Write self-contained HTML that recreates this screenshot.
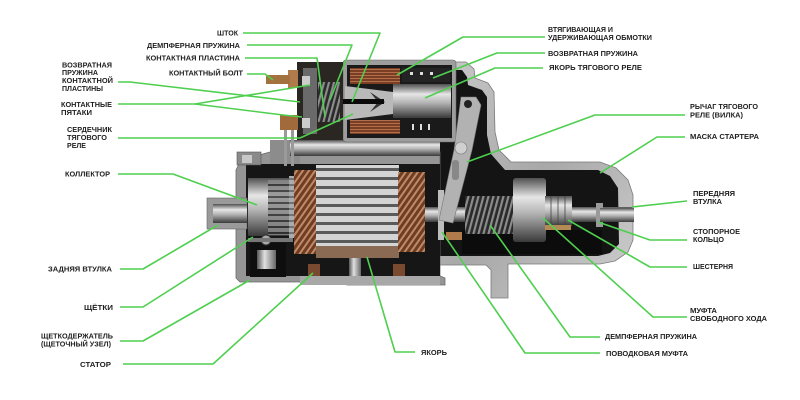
<!DOCTYPE html>
<html><head><meta charset="utf-8"><style>
html,body{margin:0;padding:0;background:#fff;width:800px;height:400px;overflow:hidden}
svg{display:block}
text{font-family:"Liberation Sans","DejaVu Sans",sans-serif;font-weight:bold;font-size:7px;fill:#1e1e1e}
</style></head><body>
<svg width="800" height="400" viewBox="0 0 800 400" xmlns="http://www.w3.org/2000/svg">
<defs>
<linearGradient id="silv" x1="0" y1="0" x2="0" y2="1">
<stop offset="0" stop-color="#505050"/><stop offset="0.3" stop-color="#e6e6e6"/><stop offset="0.55" stop-color="#b4b4b4"/><stop offset="1" stop-color="#3a3a3a"/></linearGradient>
<linearGradient id="silvh" x1="0" y1="0" x2="1" y2="0">
<stop offset="0" stop-color="#555"/><stop offset="0.4" stop-color="#e0e0e0"/><stop offset="1" stop-color="#666"/></linearGradient>
<linearGradient id="case" x1="0" y1="0" x2="1" y2="1">
<stop offset="0" stop-color="#c9c9c9"/><stop offset="0.5" stop-color="#a8a8a8"/><stop offset="1" stop-color="#cfcfcf"/></linearGradient>
<pattern id="lam" width="6" height="9" patternUnits="userSpaceOnUse">
<rect width="6" height="9" fill="#d4d4d4"/><rect y="6" width="6" height="3" fill="#5a5a5a"/></pattern>
<pattern id="cop" width="5" height="5" patternUnits="userSpaceOnUse" patternTransform="rotate(35)">
<rect width="5" height="5" fill="#6e3d24"/><rect width="2" height="5" fill="#c08a66"/></pattern>
<pattern id="com" width="4" height="6" patternUnits="userSpaceOnUse">
<rect width="4" height="6" fill="#8a8a8a"/><rect y="4" width="4" height="2" fill="#2a2a2a"/></pattern>
<pattern id="spr" width="5" height="40" patternUnits="userSpaceOnUse" patternTransform="skewX(-15)">
<rect width="5" height="40" fill="#2a2a2a"/><rect width="2.2" height="40" fill="#8d8d8d"/></pattern>
<pattern id="coil" width="40" height="3" patternUnits="userSpaceOnUse">
<rect width="40" height="3" fill="#7a3e24"/><rect width="40" height="1" fill="#b36f4b"/></pattern>
</defs>

<!-- drive housing -->
<polygon fill="url(#case)" stroke="#7a7a7a" stroke-width="0.8" points="436,62 466,62 474,69 475,78 488,83 494,92 495,132 499,150 511,162 600,162 616,168 628,180 633,195 633,240 628,252 615,261 600,264 508,264 508,298 491,298 491,270 486,265 436,265"/>
<polygon fill="#141414" points="440,70 462,70 467,77 468,85 482,90 487,97 487,135 491,154 505,170 598,170 610,176 618,188 619,244 610,253 598,256 440,256"/>

<!-- motor housing -->
<polygon fill="#959595" stroke="#6a6a6a" stroke-width="0.8" points="236,170 241,160 270,152 300,152 440,152 440,276 445,278 445,285 347,285 340,282 240,282 236,278"/>
<rect x="246" y="164" width="194" height="112" fill="#161616"/>
<rect x="237" y="152" width="24" height="13" fill="#8a8a8a" stroke="#555" stroke-width="0.6"/>
<rect x="242" y="155" width="10" height="8" fill="#c8c8c8"/>

<!-- left shaft boss -->
<rect x="207" y="198" width="40" height="31" fill="#9a9a9a" stroke="#666" stroke-width="0.6"/>
<rect x="213" y="204" width="34" height="19" fill="url(#silv)"/>

<!-- commutator -->
<rect x="248" y="178" width="42" height="58" fill="url(#silv)"/>
<rect x="268" y="180" width="22" height="55" fill="url(#com)" opacity="0.8"/>
<rect x="289" y="176" width="6" height="62" fill="#ddd"/>
<rect x="289" y="176" width="6" height="62" fill="url(#com)" opacity="0.6"/>

<!-- windings & laminations -->
<rect x="294" y="170" width="23" height="84" fill="url(#cop)"/>
<rect x="316" y="165" width="83" height="86" fill="url(#lam)"/>
<rect x="316" y="246" width="83" height="12" fill="#8a6a52"/>
<rect x="398" y="172" width="27" height="80" fill="url(#cop)"/>

<!-- brush holder -->
<rect x="250" y="243" width="36" height="34" fill="#0e0e0e"/>
<rect x="257" y="250" width="19" height="19" fill="url(#silvh)"/>
<circle cx="266" cy="240" r="5" fill="#aaa" stroke="#333"/>
<rect x="248" y="238" width="45" height="4" fill="#777"/>

<!-- stator poles & screw -->
<rect x="308" y="264" width="12" height="13" fill="#7a4a30"/>
<rect x="393" y="264" width="12" height="13" fill="#7a4a30"/>
<rect x="349" y="258" width="12" height="27" fill="url(#silvh)"/>
<rect x="300" y="276" width="140" height="9" fill="#a8a8a8"/>

<!-- solenoid -->
<rect x="270" y="140" width="30" height="24" fill="#8c8c8c"/>
<rect x="290" y="140" width="150" height="16" fill="url(#silv)"/>
<rect x="343" y="60" width="113" height="82" rx="3" fill="#9d9d9d" stroke="#666" stroke-width="0.6"/>
<rect x="347" y="65" width="105" height="73" fill="#1a1a1a"/>
<rect x="350" y="68" width="50" height="16" fill="url(#coil)"/>
<rect x="350" y="120" width="50" height="14" fill="url(#coil)"/>
<rect x="402" y="68" width="48" height="14" fill="#242424"/>
<g fill="#ddd"><rect x="410" y="72" width="3" height="3"/><rect x="420" y="72" width="3" height="3"/><rect x="430" y="72" width="3" height="3"/><rect x="412" y="124" width="2" height="6"/><rect x="420" y="124" width="2" height="6"/><rect x="428" y="124" width="2" height="6"/></g>
<polygon points="345,86 393,92 393,114 345,120" fill="#b9b9b9"/>
<polygon points="370,92 385,102 370,112 378,102" fill="#333"/>
<rect x="393" y="84" width="58" height="34" fill="url(#silv)"/>
<rect x="328" y="99" width="56" height="5" fill="#0a0a0a"/>
<!-- solenoid cap -->
<rect x="297" y="62" width="46" height="78" fill="#2a2622"/>
<rect x="303" y="68" width="14" height="66" fill="#6a6a6a"/>
<rect x="318" y="82" width="22" height="40" fill="url(#spr)"/>
<rect x="288" y="70" width="10" height="18" fill="#b07a4a"/>
<rect x="266" y="75" width="24" height="9" fill="#a4723e"/>
<rect x="280" y="115" width="18" height="15" fill="#a06a3a"/>
<rect x="302" y="76" width="8" height="10" fill="#ccc"/>
<rect x="302" y="118" width="8" height="10" fill="#ccc"/>
<rect x="284" y="130" width="3" height="36" fill="#9a9a9a"/>
<rect x="291" y="130" width="3" height="36" fill="#9a9a9a"/>

<!-- drive internals -->
<rect x="425" y="207" width="208" height="15" fill="url(#silv)"/>
<rect x="462" y="230" width="140" height="24" fill="#0c0c0c"/>
<rect x="465" y="196" width="48" height="38" fill="url(#spr)"/>
<rect x="438" y="190" width="6" height="50" fill="#bdbdbd"/>
<rect x="446" y="232" width="16" height="8" fill="#b07a4a"/>
<rect x="513" y="178" width="33" height="64" rx="3" fill="url(#silv)"/>
<rect x="545" y="196" width="27" height="30" fill="url(#silv)"/>
<g stroke="#444" stroke-width="0.8"><line x1="551" y1="196" x2="551" y2="226"/><line x1="558" y1="196" x2="558" y2="226"/><line x1="565" y1="196" x2="565" y2="226"/></g>
<rect x="545" y="225" width="26" height="5" fill="#b48a55"/>
<rect x="596" y="203" width="7" height="24" fill="#9a9a9a"/>
<rect x="600" y="208" width="34" height="14" fill="url(#silv)"/>
<!-- lever -->
<polygon points="461,97 476,97 481,105 472,150 453,223 439,220 454,150" fill="#b2b2b2" stroke="#777" stroke-width="0.6"/>
<circle cx="468" cy="104" r="4" fill="#222"/>
<circle cx="461" cy="148" r="6" fill="#d0d0d0" stroke="#777" stroke-width="0.6"/>
<rect x="452" y="160" width="7" height="20" rx="3" fill="#888"/>

<!-- green leader lines -->
<g fill="none" stroke="#4fcf4f" stroke-width="1.6" stroke-linejoin="round">
<polyline points="243,33 380,33 352,102"/>
<polyline points="247,45 352,45 330,100"/>
<polyline points="245,58 317,58 325,117"/>
<polyline points="247,74 265,74 273,80"/>
<polyline points="118,82 130,82 300,102"/>
<polyline points="118,104 195,104 310,85"/>
<polyline points="195,104 283,115 302,117"/>
<polyline points="118,138 300,138 353,114"/>
<polyline points="118,174 173,174 257,205"/>
<polyline points="120,269 143,269 218,225"/>
<polyline points="120,307 143,307 253,237"/>
<polyline points="120,341 143,341 250,280"/>
<polyline points="123,364 213,364 313,273"/>
<polyline points="415,352 395,352 367,257"/>
<polyline points="600,337 570,337 490,225"/>
<polyline points="600,353 525,353 442,232"/>
<polyline points="687,317 653,317 543,218"/>
<polyline points="687,267 650,267 568,220"/>
<polyline points="687,240 650,240 598,222"/>
<polyline points="687,201 632,207"/>
<polyline points="545,37 463,37 397,75"/>
<polyline points="545,53 497,53 433,78"/>
<polyline points="543,68 495,68 425,98"/>
<polyline points="685,115 595,115 467,162"/>
<polyline points="685,137 657,137 600,173"/>
</g>

<!-- labels -->
<g>
<text x="217" y="35.5" textLength="21" lengthAdjust="spacingAndGlyphs">ШТОК</text>
<text x="147" y="48" textLength="93" lengthAdjust="spacingAndGlyphs">ДЕМПФЕРНАЯ ПРУЖИНА</text>
<text x="146" y="60.5" textLength="94" lengthAdjust="spacingAndGlyphs">КОНТАКТНАЯ ПЛАСТИНА</text>
<text x="169" y="75.5" textLength="74" lengthAdjust="spacingAndGlyphs">КОНТАКТНЫЙ БОЛТ</text>
<text x="62" y="67.5" textLength="50" lengthAdjust="spacingAndGlyphs">ВОЗВРАТНАЯ</text>
<text x="62" y="75" textLength="36" lengthAdjust="spacingAndGlyphs">ПРУЖИНА</text>
<text x="62" y="83" textLength="51" lengthAdjust="spacingAndGlyphs">КОНТАКТНОЙ</text>
<text x="62" y="91" textLength="41" lengthAdjust="spacingAndGlyphs">ПЛАСТИНЫ</text>
<text x="61" y="107" textLength="51" lengthAdjust="spacingAndGlyphs">КОНТАКТНЫЕ</text>
<text x="61" y="115" textLength="31" lengthAdjust="spacingAndGlyphs">ПЯТАКИ</text>
<text x="67" y="132" textLength="45" lengthAdjust="spacingAndGlyphs">СЕРДЕЧНИК</text>
<text x="67" y="140" textLength="40" lengthAdjust="spacingAndGlyphs">ТЯГОВОГО</text>
<text x="67" y="148" textLength="19" lengthAdjust="spacingAndGlyphs">РЕЛЕ</text>
<text x="65" y="176.5" textLength="45" lengthAdjust="spacingAndGlyphs">КОЛЛЕКТОР</text>
<text x="48" y="271.5" textLength="64" lengthAdjust="spacingAndGlyphs">ЗАДНЯЯ ВТУЛКА</text>
<text x="84" y="310" textLength="29" lengthAdjust="spacingAndGlyphs">ЩЁТКИ</text>
<text x="41" y="338.5" textLength="72" lengthAdjust="spacingAndGlyphs">ЩЕТКОДЕРЖАТЕЛЬ</text>
<text x="41" y="346.5" textLength="70" lengthAdjust="spacingAndGlyphs">(ЩЕТОЧНЫЙ УЗЕЛ)</text>
<text x="80" y="367" textLength="31" lengthAdjust="spacingAndGlyphs">СТАТОР</text>
<text x="421" y="355" textLength="26" lengthAdjust="spacingAndGlyphs">ЯКОРЬ</text>
<text x="605" y="339" textLength="92" lengthAdjust="spacingAndGlyphs">ДЕМПФЕРНАЯ ПРУЖИНА</text>
<text x="606" y="356" textLength="82" lengthAdjust="spacingAndGlyphs">ПОВОДКОВАЯ МУФТА</text>
<text x="690" y="313" textLength="27" lengthAdjust="spacingAndGlyphs">МУФТА</text>
<text x="690" y="321" textLength="77" lengthAdjust="spacingAndGlyphs">СВОБОДНОГО ХОДА</text>
<text x="693" y="269" textLength="40" lengthAdjust="spacingAndGlyphs">ШЕСТЕРНЯ</text>
<text x="693" y="234" textLength="47" lengthAdjust="spacingAndGlyphs">СТОПОРНОЕ</text>
<text x="693" y="242" textLength="31" lengthAdjust="spacingAndGlyphs">КОЛЬЦО</text>
<text x="693" y="196" textLength="42" lengthAdjust="spacingAndGlyphs">ПЕРЕДНЯЯ</text>
<text x="693" y="204" textLength="29" lengthAdjust="spacingAndGlyphs">ВТУЛКА</text>
<text x="548" y="32" textLength="65" lengthAdjust="spacingAndGlyphs">ВТЯГИВАЮЩАЯ И</text>
<text x="548" y="40" textLength="104" lengthAdjust="spacingAndGlyphs">УДЕРЖИВАЮЩАЯ ОБМОТКИ</text>
<text x="548" y="56" textLength="90" lengthAdjust="spacingAndGlyphs">ВОЗВРАТНАЯ ПРУЖИНА</text>
<text x="549" y="70" textLength="93" lengthAdjust="spacingAndGlyphs">ЯКОРЬ ТЯГОВОГО РЕЛЕ</text>
<text x="690" y="109" textLength="68" lengthAdjust="spacingAndGlyphs">РЫЧАГ ТЯГОВОГО</text>
<text x="690" y="117.5" textLength="53" lengthAdjust="spacingAndGlyphs">РЕЛЕ (ВИЛКА)</text>
<text x="690" y="139" textLength="69" lengthAdjust="spacingAndGlyphs">МАСКА СТАРТЕРА</text>
</g>
</svg>
</body></html>
